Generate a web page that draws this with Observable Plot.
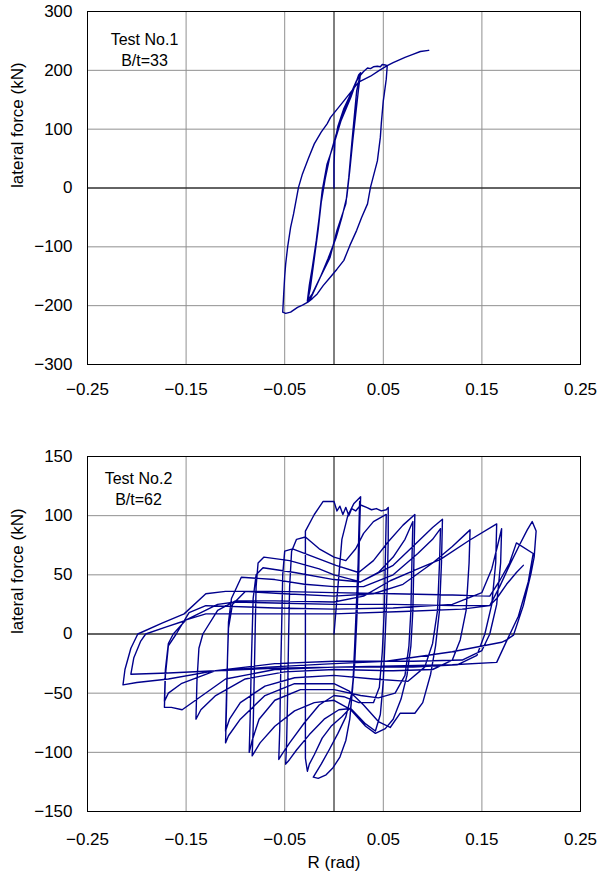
<!DOCTYPE html>
<html><head><meta charset="utf-8">
<script src="https://cdn.jsdelivr.net/npm/d3@7"></script>
<script src="https://cdn.jsdelivr.net/npm/@observablehq/plot@0.6"></script>
<style>
body{margin:0;background:#fff;}
#chart{width:597px;}
#chart svg{display:block;}
</style></head><body><div id="chart"></div>
<script>
// ---- data ----
const xTicks = [-0.25, -0.15, -0.05, 0.05, 0.15, 0.25];
const yTicks1 = [-300, -200, -100, 0, 100, 200, 300];
const yTicks2 = [-150, -100, -50, 0, 50, 100, 150];
const testNames = ["Test No.1", "Test No.2"];
const ratios = ["B/t=33", "B/t=62"];
const yLabel = "lateral force (kN)";
const xLabel = "R (rad)";

// Test No.1 : [R (rad), lateral force (kN)]
const test1Loop = [
[0,0],[0,40],[0.001,80],[0.004,105],[0.01,135],[0.017,160],[0.023,182],[0.027,196],
[0.025,170],[0.022,125],[0.019,80],[0.016,30],[0.013,-15],[0.008,-50],[0.002,-85],[-0.006,-120],[-0.014,-152],[-0.022,-180],[-0.027,-192],
[-0.025,-165],[-0.022,-135],[-0.018,-90],[-0.015,-50],[-0.012,-5],[-0.007,41],[0,75],[0.007,114],[0.017,154],[0.025,192],[0.027,196],
[0.023,165],[0.018,75],[0.015,18],[0.012,-27],[0.003,-72],[-0.004,-118],[-0.014,-152],[-0.024,-189],[-0.027,-194],
[-0.024,-170],[-0.02,-120],[-0.016,-70],[-0.013,-25],[-0.009,15],[-0.004,55],[0.002,90],[0.009,125],[0.017,160],[0.023,183],[0.027,192],
[0.03,198],[0.034,204],[0.037,203],[0.04,206],[0.044,207],[0.047,206],[0.049,210],[0.052,209],[0.054,208],
[0.053,185],[0.051,160],[0.05,148],[0.048,110],[0.047,86],[0.044,46],[0.037,1],[0.034,-27],[0.028,-50],[0.023,-72],[0.016,-98],[0.01,-123],[0.003,-138],[-0.004,-152],[-0.011,-166],[-0.017,-180],[-0.022,-188],[-0.0265,-194],
[-0.032,-199],[-0.037,-203],[-0.044,-211],[-0.049,-213],[-0.052,-211],
[-0.051,-180],[-0.05,-150],[-0.049,-129],[-0.047,-100],[-0.044,-67],[-0.041,-44],[-0.036,1],[-0.032,24],[-0.026,50],[-0.02,75],[-0.013,95],[-0.007,109],[-0.0035,120],[0.01,148],[0.018,165],[0.025,180],[0.037,190],[0.046,200],[0.054,208],[0.06,213],[0.064,216],[0.072,222],[0.08,227],[0.0876,232],[0.096,234]
];

// Test No.2 : [R (rad), lateral force (kN)]
const test2Loop = [
[0,0],[0.004,40],[0.008,80],[0.014,100],[0.02,110],[0.027,116],
[0.026,90],[0.025,50],[0.023,10],[0.021,-25],[0.018,-50],[0.012,-70],[0.004,-84],[-0.005,-98],[-0.013,-110],[-0.021,-121],
[-0.016,-122],[-0.008,-119],[-0.001,-113],[0.006,-104],[0.012,-90],[0.016,-72],[0.019,-45],[0.021,-10],[0.023,30],[0.025,70],[0.026,100],[0.026,112],
[0.025,80],[0.024,40],[0.022,0],[0.02,-35],[0.017,-62],[0.008,-70],[-0.003,-78],[-0.012,-88],[-0.02,-102],[-0.025,-110],[-0.027,-116],
[-0.029,-105],[-0.029,-60],[-0.029,0],[-0.029,50],[-0.029,87],[-0.02,101],[-0.011,112],[0,112],[0.003,104],[0.006,108],[0.009,101],[0.012,107],[0.015,100],[0.018,106],[0.022,104],[0.027,109],[0.033,107],[0.038,105],[0.043,106],[0.048,104],[0.053,105],[0.055,107],
[0.055,80],[0.054,40],[0.052,0],[0.05,-40],[0.047,-68],[0.042,-82],[0.032,-76],[0.017,-63],[0.005,-64],[-0.01,-72],[-0.025,-85],[-0.038,-98],[-0.045,-106],[-0.049,-110],
[-0.048,-90],[-0.047,-50],[-0.046,0],[-0.045,40],[-0.043,70],[-0.038,80],[-0.029,82],[-0.015,72],[0,65],[0.012,62],[0.022,72],[0.03,85],[0.04,95],[0.053,101],
[0.052,60],[0.051,20],[0.049,-15],[0.046,-45],[0.04,-58],[0.025,-58],[0.01,-53],[0,-52],[-0.015,-60],[-0.03,-75],[-0.045,-92],[-0.053,-102],[-0.056,-106],
[-0.055,-80],[-0.054,-30],[-0.053,10],[-0.052,50],[-0.05,70],[-0.042,72],[-0.02,65],[0.002,58],[0.025,52],[0.04,62],[0.055,78],[0.07,92],[0.082,101],
[0.081,60],[0.08,20],[0.078,-10],[0.074,-35],[0.068,-55],[0.06,-72],[0.052,-80],[0.042,-84],[0.032,-78],[0.017,-64],[0,-56],[-0.02,-58],[-0.04,-65],[-0.06,-78],[-0.075,-92],[-0.083,-103],
[-0.082,-80],[-0.081,-40],[-0.08,0],[-0.079,40],[-0.077,60],[-0.071,65],[-0.045,62],[-0.015,55],[0,50],[0.027,44],[0.045,52],[0.06,65],[0.072,80],[0.08,95],
[0.079,60],[0.078,20],[0.076,-10],[0.072,-35],[0.062,-50],[0.045,-54],[0.027,-52],[0,-47],[-0.034,-47],[-0.06,-56],[-0.076,-72],[-0.083,-90],[-0.086,-100],
[-0.085,-70],[-0.084,-30],[-0.083,0],[-0.082,30],[-0.079,50],[-0.072,56],[-0.04,52],[0,46],[0.027,44],[0.06,58],[0.085,78],[0.1,90],[0.11,97],
[0.109,60],[0.107,20],[0.103,-10],[0.098,-34],[0.09,-58],[0.082,-67],[0.067,-67],[0.057,-79],[0.045,-74],[0.03,-60],[0.015,-48],[0,-42],[-0.04,-42],[-0.07,-52],[-0.095,-72],[-0.107,-86],[-0.11,-92],
[-0.109,-60],[-0.108,-20],[-0.107,10],[-0.104,30],[-0.094,48],[-0.06,46],[-0.03,42],[0,40],[0.03,40],[0.06,50],[0.085,68],[0.1,80],[0.108,89],
[0.107,60],[0.105,20],[0.1,-8],[0.092,-28],[0.075,-40],[0.04,-38],[0,-35],[-0.04,-37],[-0.07,-44],[-0.095,-58],[-0.106,-72],[-0.11,-82],
[-0.109,-50],[-0.108,-20],[-0.107,5],[-0.103,25],[-0.09,36],[-0.05,34],[0,32],[0.04,34],[0.07,42],[0.1,60],[0.12,74],[0.138,88],
[0.137,60],[0.134,20],[0.128,-5],[0.12,-22],[0.1,-30],[0.06,-31],[0,-30],[-0.05,-32],[-0.09,-38],[-0.12,-52],[-0.135,-64],[-0.14,-72],
[-0.139,-40],[-0.137,-12],[-0.133,0],[-0.118,20],[-0.1,28],[-0.06,28],[0,27],[0.03,32],[0.057,45],[0.085,55],[0.108,63],[0.137,79],[0.165,93],
[0.164,60],[0.16,25],[0.153,0],[0.145,-18],[0.125,-26],[0.08,-28],[0,-28],[-0.06,-30],[-0.11,-38],[-0.154,-64],[-0.165,-62],[-0.172,-62],
[-0.171,-35],[-0.168,-10],[-0.16,0],[-0.147,18],[-0.13,24],[-0.06,22],[0,21],[0.06,22],[0.12,25],[0.15,35],[0.16,55],[0.166,75],[0.17,89],
[0.169,60],[0.165,25],[0.158,0],[0.15,-14],[0.13,-22],[0.08,-23],[0,-23],[-0.06,-25],[-0.12,-31],[-0.155,-42],[-0.168,-50],[-0.172,-57],
[-0.171,-30],[-0.168,-8],[-0.163,0],[-0.15,12],[-0.13,17],[-0.06,17],[0,17],[0.07,19],[0.13,21],[0.158,24],[0.168,40],[0.178,58],[0.188,75],[0.196,88],[0.201,95],[0.205,87],
[0.203,65],[0.2,52],[0.192,24],[0.182,-1],[0.175,-5],[0.17,-7],[0.12,-15],[0.053,-23],[0,-25],[-0.067,-28],[-0.12,-31],[-0.168,-38],[-0.2,-41],[-0.214,-43],
[-0.212,-30],[-0.206,-12],[-0.199,0],[-0.175,9],[-0.152,17],[-0.13,34],[-0.11,36],[-0.06,36],[0,35],[0.06,34],[0.12,33],[0.158,32],[0.168,45],[0.178,60],[0.185,77],[0.202,68],
[0.197,44],[0.187,15],[0.175,-6],[0.165,-24],[0.12,-26],[0.06,-27],[0,-28],[-0.06,-29],[-0.12,-31],[-0.168,-33],[-0.206,-34],
[-0.203,-20],[-0.196,-6],[-0.191,0],[-0.17,6],[-0.152,11],[-0.118,25],[-0.1,27],[-0.05,26],[0,25],[0.06,25],[0.12,24],[0.158,24],[0.165,30],[0.175,42],[0.185,52],[0.192,58]
];

// ---- drawing ----
const FONT = "'Liberation Sans', Arial, sans-serif";
function panel(loop, yTicks, name, ratio, o) {
  const marks = [
    Plot.gridX(xTicks, {stroke: "#909090", strokeOpacity: 1}),
    Plot.gridY(yTicks, {stroke: "#909090", strokeOpacity: 1}),
    Plot.ruleX([0], {stroke: "#000", strokeWidth: 1}),
    Plot.ruleY([0], {stroke: "#000", strokeWidth: 1}),
    Plot.line(loop, {x: d => d[0], y: d => d[1], stroke: "#00008c", strokeWidth: 1.4}),
    Plot.frame({stroke: "#000"}),
    Plot.text([name + "\n" + ratio], {text: d => d, frameAnchor: "top-left", dx: o.noteDx, dy: o.noteDy,
      textAnchor: "middle", lineAnchor: "top", lineHeight: 1.31, fontSize: 16}),
    Plot.text([yLabel], {text: d => d, frameAnchor: "left", dx: -70, rotate: -90, fontSize: 17})
  ];
  if (o.xLabel) marks.push(Plot.text([o.xLabel], {text: d => d, frameAnchor: "bottom", dy: 56, fontSize: 17}));
  return Plot.plot({
    width: 597, height: o.height,
    marginLeft: 87, marginRight: 17, marginTop: o.mt, marginBottom: o.mb,
    style: {fontFamily: FONT, fontSize: "17px", color: "#000", background: "#fff", overflow: "visible"},
    x: {domain: [-0.25, 0.25], ticks: xTicks, tickFormat: d3.format(".2f"), tickSize: 0, tickPadding: o.xPad, label: null},
    y: {domain: [yTicks[0], yTicks[yTicks.length - 1]], ticks: yTicks, tickFormat: d3.format("d"), tickSize: 0, tickPadding: 15, label: null},
    marks
  });
}
const root = document.getElementById("chart");
root.append(panel(test1Loop, yTicks1, testNames[0], ratios[0], {height: 430, mt: 11, mb: 66, xPad: 18, noteDx: 57, noteDy: 19}));
root.append(panel(test2Loop, yTicks2, testNames[1], ratios[1], {height: 446, mt: 26, mb: 65, xPad: 21, noteDx: 51, noteDy: 13, xLabel}));
</script></body></html>
